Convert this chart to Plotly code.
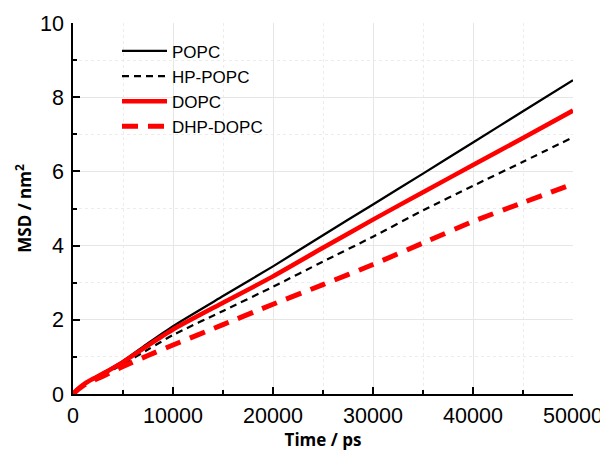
import plotly.graph_objects as go

time_ps = [0, 500, 1000, 2000, 3000, 5000, 7500, 10000, 15000, 20000, 25000, 30000, 35000, 40000, 45000, 50000]
popc = [0, 0.14, 0.25, 0.42, 0.57, 0.89, 1.37, 1.83, 2.64, 3.44, 4.28, 5.11, 5.94, 6.78, 7.62, 8.46]
hp_popc = [0, 0.13, 0.23, 0.38, 0.52, 0.80, 1.20, 1.59, 2.24, 2.89, 3.57, 4.24, 4.95, 5.61, 6.26, 6.92]
dopc = [0, 0.14, 0.25, 0.41, 0.55, 0.86, 1.31, 1.74, 2.46, 3.17, 3.94, 4.70, 5.44, 6.17, 6.90, 7.64]
dhp_dopc = [0, 0.12, 0.22, 0.36, 0.48, 0.74, 1.04, 1.32, 1.87, 2.42, 2.95, 3.49, 4.07, 4.65, 5.16, 5.66]

x_ticks = [0, 10000, 20000, 30000, 40000, 50000]
y_ticks = [0, 2, 4, 6, 8, 10]

fig = go.Figure()
fig.add_trace(go.Scatter(x=time_ps, y=popc, mode="lines", name="POPC",
                         line=dict(color="black", width=2.3, shape="spline", smoothing=0.6)))
fig.add_trace(go.Scatter(x=time_ps, y=hp_popc, mode="lines", name="HP-POPC",
                         line=dict(color="black", width=2.2, dash="7px,5px", shape="spline", smoothing=0.6)))
fig.add_trace(go.Scatter(x=time_ps, y=dopc, mode="lines", name="DOPC",
                         line=dict(color="#ff0000", width=4.5, shape="spline", smoothing=0.6)))
fig.add_trace(go.Scatter(x=time_ps, y=dhp_dopc, mode="lines", name="DHP-DOPC",
                         line=dict(color="#ff0000", width=5, dash="16px,10px", shape="spline", smoothing=0.6)))

axis_common = dict(
    showline=True, linecolor="black", linewidth=1.5,
    ticks="inside", ticklen=7, tickwidth=1.5, tickcolor="black",
    showgrid=True, gridcolor="#e6e6e6", gridwidth=1,
    zeroline=False, automargin=False,
    tickfont=dict(family="Liberation Sans, Arial", size=21.5, color="black"),
    title_font=dict(family="Open Sans", size=17, color="black", weight="bold"),
    mirror=False,
)

fig.update_xaxes(
    range=[0, 50000], tickvals=x_ticks, ticktext=[str(v) for v in x_ticks],
    minor=dict(dtick=5000, ticks="inside", ticklen=4, tickcolor="black",
               showgrid=True, gridcolor="#ececec", griddash="dot"),
    title_text="Time / ps", title_standoff=6, ticklabelstandoff=1,
    **axis_common)
fig.update_yaxes(
    range=[0, 10], tickvals=y_ticks, ticktext=[str(v) for v in y_ticks],
    minor=dict(dtick=1, ticks="inside", ticklen=4, tickcolor="black",
               showgrid=True, gridcolor="#ececec", griddash="dot"),
    title_text="MSD / nm<sup>2</sup>", title_standoff=4, ticklabelstandoff=3,
    **axis_common)

fig.update_layout(
    width=600, height=451,
    margin=dict(l=65, r=35, t=15, b=65),
    paper_bgcolor="white", plot_bgcolor="white",
    showlegend=True,
    legend=dict(x=0.088, y=0.972, xanchor="left", yanchor="top",
                bgcolor="rgba(0,0,0,0)", itemwidth=45,
                font=dict(family="Liberation Sans, Arial", size=17, color="black"),
                tracegroupgap=0),
)

fig.write_html("out.html")
